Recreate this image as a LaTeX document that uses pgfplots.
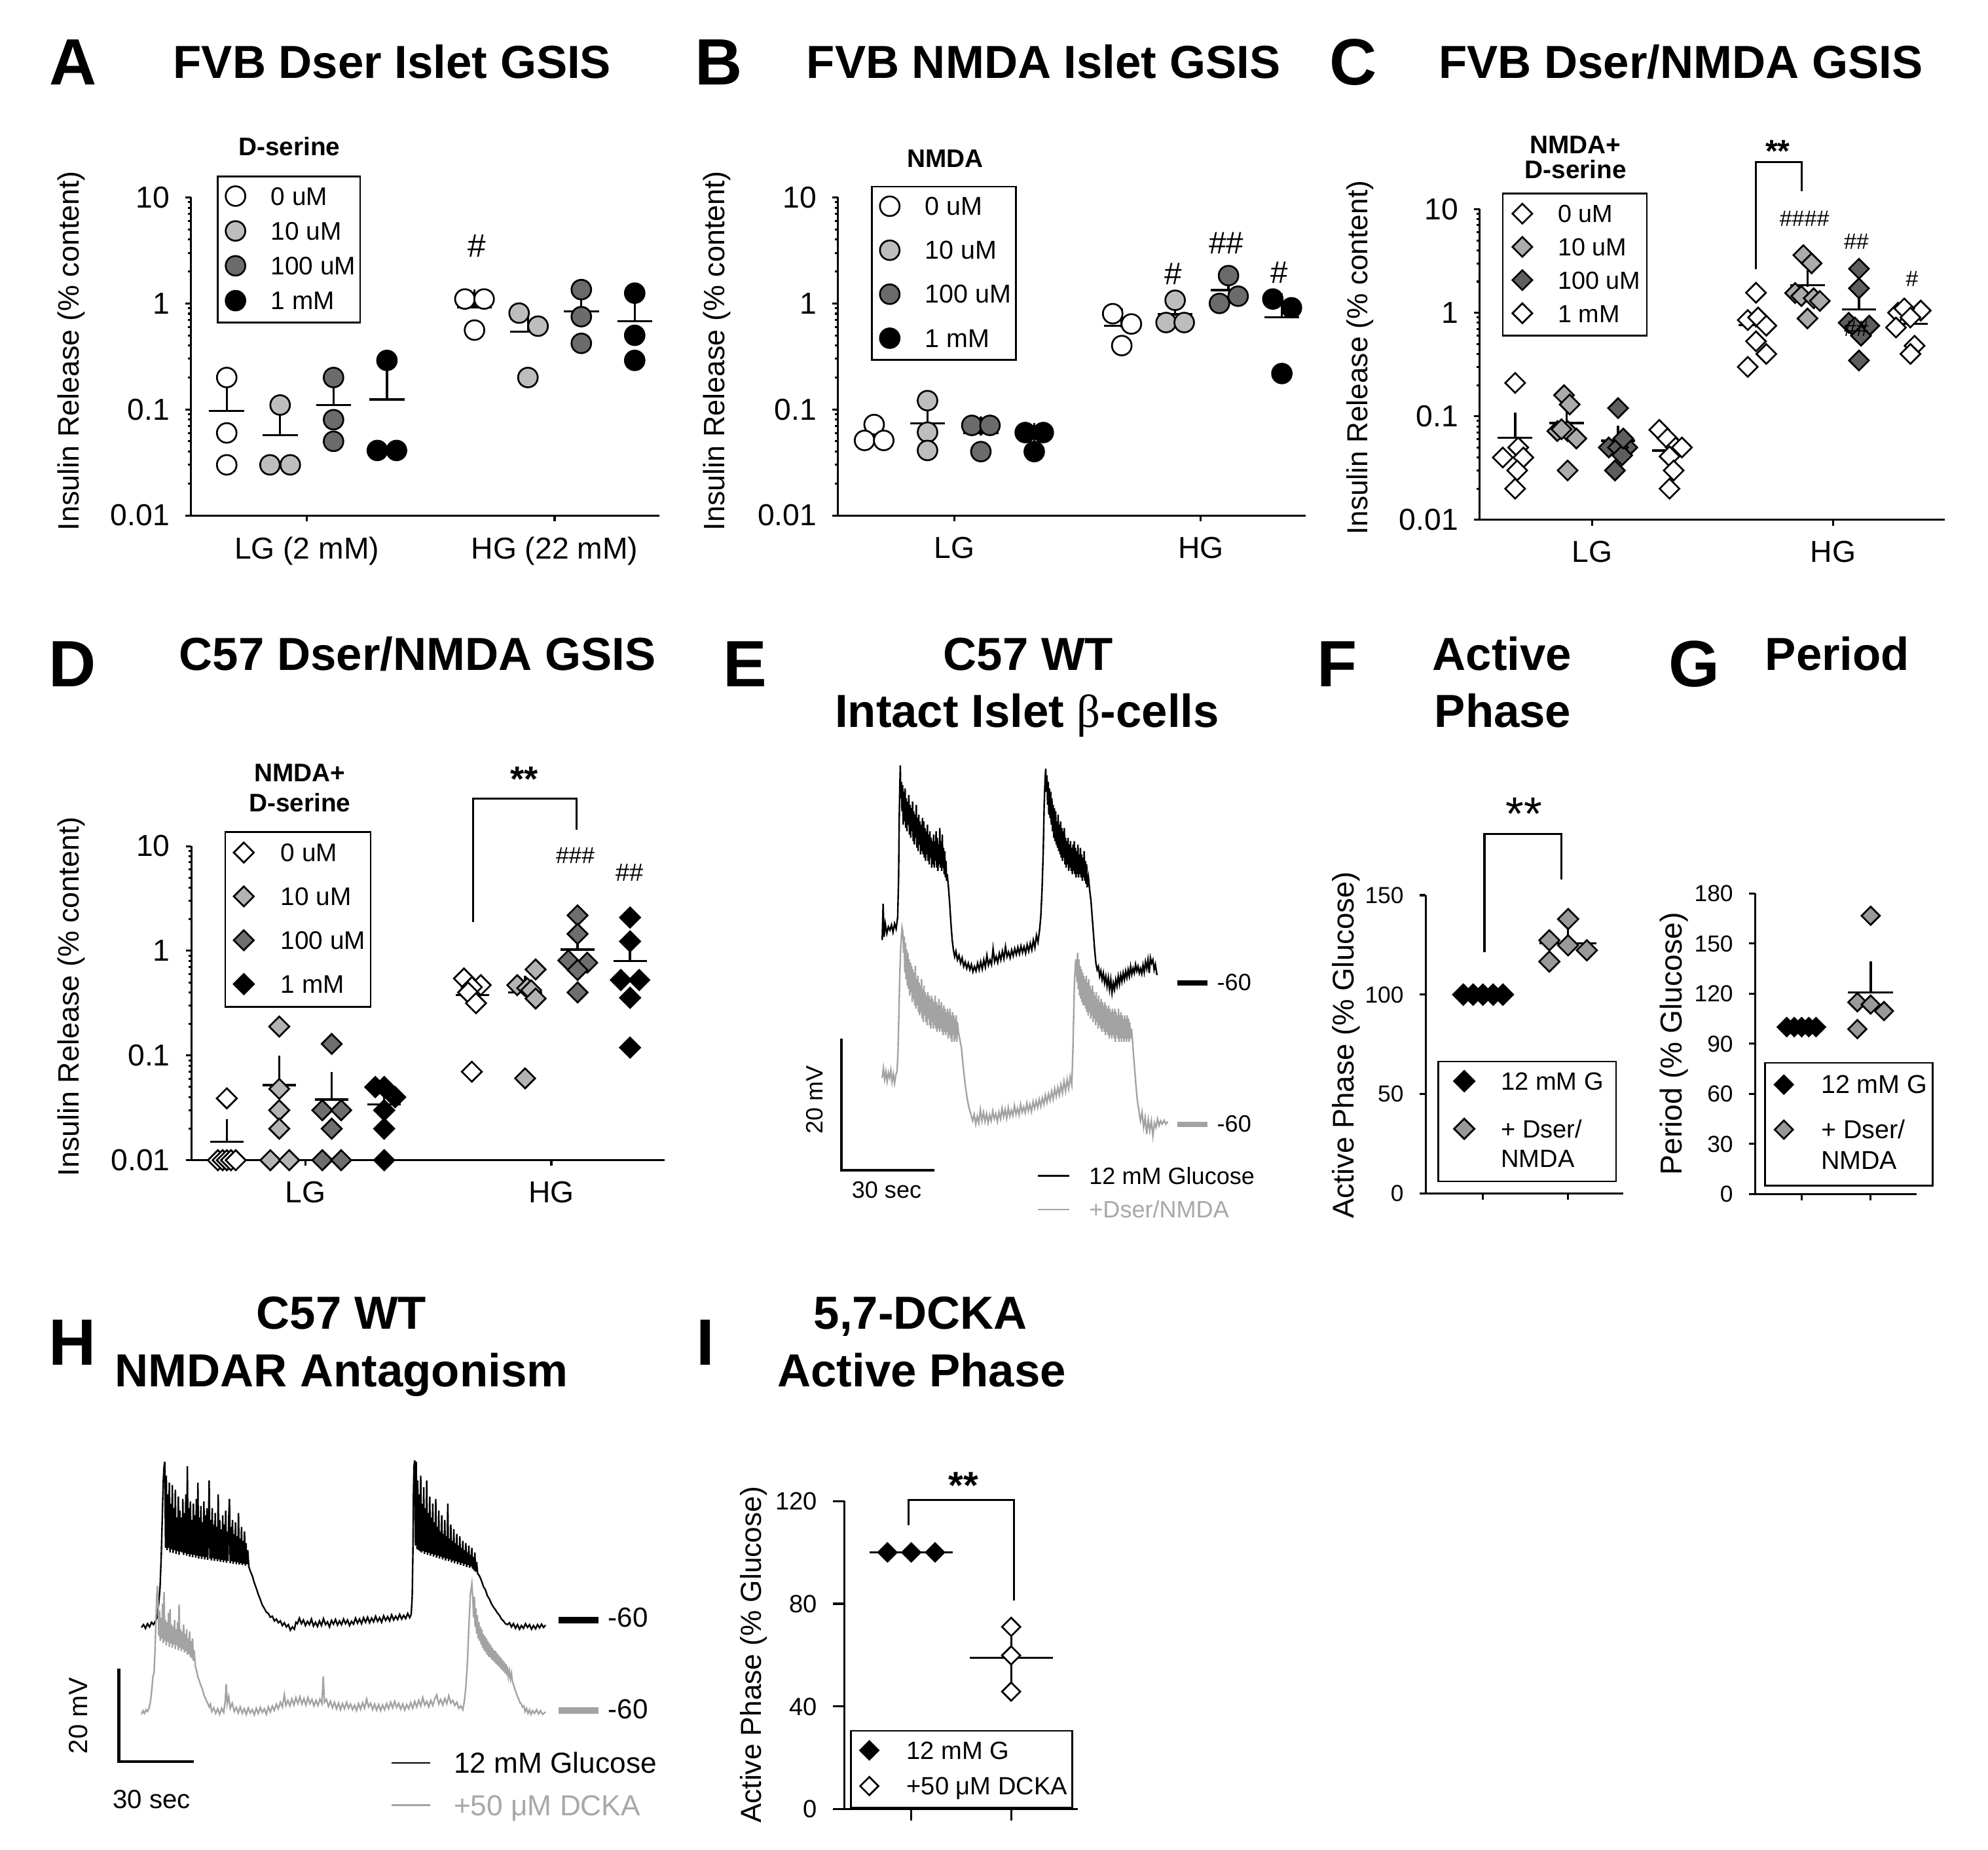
\documentclass[border=0pt]{standalone}
\usepackage{pgfplots}
\pgfplotsset{compat=1.18}
\usepackage{fontspec}
\setmainfont{Liberation Sans}
\newfontfamily\seriffont{Liberation Serif}
\newcommand{\fs}[1]{\fontsize{#1}{#1}\selectfont}
\definecolor{ltA}{HTML}{BDBDBD}
\definecolor{dkA}{HTML}{6B6B6B}
\definecolor{ltC}{HTML}{ABABAB}
\definecolor{dkC}{HTML}{5E5E5E}
\definecolor{ltD}{HTML}{B3B3B3}
\definecolor{dkD}{HTML}{6E6E6E}
\definecolor{gF}{HTML}{999999}
\definecolor{trg}{HTML}{A3A3A3}
\definecolor{txg}{HTML}{A8A8A8}
\pgfplotsset{
  every axis/.append style={scale only axis, clip=false,
    axis x line*=bottom, axis y line*=left,
    axis line style={line width=0.45pt, black},
    tick style={black, line width=0.45pt}, tick align=outside},
  myPts/.style={only marks, mark=*, mark size=2.2pt, mark options={fill=#1, draw=black, line width=0.4pt}},
  myDia/.style 2 args={only marks, mark=square*, mark size=#2, mark options={rotate=45, fill=#1, draw=black, line width=0.4pt}},
  myMean/.style={draw=none, mark=none, forget plot, error bars/.cd, x dir=both, x fixed=#1, error mark=none, error bar style={draw=black, line width=0.5pt}},
  mySem/.style={draw=none, mark=none, forget plot, error bars/.cd, y dir=plus, y explicit, error mark=-, error mark options={draw=black, mark size=#1, line width=0.5pt}, error bar style={draw=black, line width=0.5pt}},
  mySemB/.style={draw=none, mark=none, forget plot, error bars/.cd, y dir=both, y explicit, error mark=-, error mark options={draw=black, mark size=#1, line width=0.5pt}, error bar style={draw=black, line width=0.5pt}},
  myLegImg/.style={legend image code/.code={\path[draw=none,fill=none] (0pt,-1.5pt) rectangle (6pt,5pt);\draw[##1] plot coordinates {(3pt,2pt)};}},
  myImgD/.style={legend image code/.code={\path[draw=none,fill=none] (0pt,-#1) rectangle (6pt,5pt);\draw[##1] plot coordinates {(3pt,2pt)};}},
  myLeg/.style n args={7}{myLegImg, legend style={at={(axis description cs:#1,#2)}, anchor=north west, draw=black, line width=0.4pt, fill=white, font=#3, inner xsep=#4, inner ysep=#5, row sep=#6, column sep=#7, cells={anchor=base west}, nodes={inner sep=0pt}}},
}
\begin{document}
\begin{tikzpicture}
\path[use as bounding box] (0,0) rectangle (15.68,-14.59);

% ---------------- A ----------------
\begin{axis}[width=3.694cm, height=2.508cm,
  ymode=log, ymin=0.01, ymax=10, ytick={0.01,0.1,1,10}, yticklabels={0.01,0.1,1,10},
  minor ytick={0.02,0.03,0.04,0.05,0.06,0.07,0.08,0.09,0.2,0.3,0.4,0.5,0.6,0.7,0.8,0.9,2,3,4,5,6,7,8,9},
  major tick length=0.045cm, minor tick length=0.025cm, ticklabel style={font=\fs{6.8}},
  xmin=0.33, xmax=9.10, xtick={2.5,7.14}, xticklabels={LG (2 mM),HG (22 mM)},
  myLeg={0.0552}{1.0686}{\fs{5.7}}{1pt}{1.4pt}{1.32pt}{4.95pt},
  at={(1.506cm,-4.065cm)}, anchor=south west, /pgf/number format/assume math mode=true]
\addplot[myPts=white] coordinates {(1,0.20)(1,0.06)(1,0.03)(5.46,1.1)(5.82,1.1)(5.64,0.56)};
\addlegendentry{0 uM}
\addplot[myPts=ltA] coordinates {(2,0.11)(1.81,0.03)(2.19,0.03)(6.475,0.81)(6.83,0.61)(6.64,0.2)};
\addlegendentry{10 uM}
\addplot[myPts=dkA] coordinates {(3,0.2)(3,0.08)(3,0.05)(7.64,1.35)(7.64,0.75)(7.64,0.42)};
\addlegendentry{100 uM}
\addplot[myPts=black] coordinates {(4,0.29)(3.82,0.041)(4.18,0.041)(8.64,1.25)(8.64,0.5)(8.64,0.29)};
\addlegendentry{1 mM}
\addplot[myMean=0.328] table[x=x,y=y,row sep=\\] {x y\\ 1 0.097\\ 2 0.057\\ 3 0.11\\ 4 0.124\\ 5.64 0.92\\ 6.64 0.54\\ 7.64 0.84\\ 8.64 0.68\\};
\addplot[mySem=2.1pt] table[x=x,y=y,y error=e,row sep=\\] {x y e\\ 1 0.097 0.052\\ 2 0.057 0.027\\ 3 0.11 0.046\\ 4 0.124 0.083\\ 5.64 0.92 0.18\\ 6.64 0.54 0.17\\ 7.64 0.84 0.25\\ 8.64 0.68 0.29\\};
\end{axis}

% ---------------- B ----------------
\begin{axis}[width=3.69cm, height=2.508cm,
  ymode=log, ymin=0.01, ymax=10, ytick={0.01,0.1,1,10}, yticklabels={0.01,0.1,1,10},
  minor ytick={0.02,0.03,0.04,0.05,0.06,0.07,0.08,0.09,0.2,0.3,0.4,0.5,0.6,0.7,0.8,0.9,2,3,4,5,6,7,8,9},
  major tick length=0.045cm, minor tick length=0.025cm, ticklabel style={font=\fs{6.8}},
  xmin=0.324, xmax=9.09, xtick={2.5,7.12}, xticklabels={LG,HG},
  myLeg={0.0705}{1.0367}{\fs{5.8}}{1pt}{1.4pt}{3.37pt}{4.95pt},
  at={(6.61cm,-4.065cm)}, anchor=south west, /pgf/number format/assume math mode=true]
\addplot[myPts=white] coordinates {(1,0.072)(0.82,0.051)(1.18,0.051)(5.47,0.80)(5.82,0.64)(5.64,0.40)};
\addlegendentry{0 uM}
\addplot[myPts=ltA] coordinates {(2,0.121)(2,0.061)(2,0.041)(6.64,1.07)(6.47,0.66)(6.81,0.66)};
\addlegendentry{10 uM}
\addplot[myPts=dkA] coordinates {(2.83,0.0707)(3.17,0.0707)(3,0.040)(7.64,1.83)(7.82,1.17)(7.47,1.0)};
\addlegendentry{100 uM}
\addplot[myPts=black] coordinates {(3.83,0.0605)(4.17,0.0605)(4,0.040)(8.47,1.10)(8.82,0.91)(8.64,0.218)};
\addlegendentry{1 mM}
\addplot[myMean=0.328] table[x=x,y=y,row sep=\\] {x y\\ 1 0.058\\ 2 0.074\\ 3 0.060\\ 4 0.054\\ 5.64 0.613\\ 6.64 0.797\\ 7.64 1.333\\ 8.64 0.743\\};
\addplot[mySem=2.1pt] table[x=x,y=y,y error=e,row sep=\\] {x y e\\ 1 0.058 0.007\\ 2 0.074 0.024\\ 3 0.060 0.010\\ 4 0.054 0.007\\ 5.64 0.613 0.116\\ 6.64 0.797 0.137\\ 7.64 1.333 0.253\\ 8.64 0.743 0.268\\};
\end{axis}

% ---------------- C ----------------
\begin{axis}[width=3.67cm, height=2.45cm,
  ymode=log, ymin=0.01, ymax=10, ytick={0.01,0.1,1,10}, yticklabels={0.01,0.1,1,10},
  minor ytick={0.02,0.03,0.04,0.05,0.06,0.07,0.08,0.09,0.2,0.3,0.4,0.5,0.6,0.7,0.8,0.9,2,3,4,5,6,7,8,9},
  major tick length=0.045cm, minor tick length=0.025cm, ticklabel style={font=\fs{6.8}},
  xmin=0.31, xmax=9.35, xtick={2.5,7.18}, xticklabels={LG,HG},
  myLeg={0.0477}{1.053}{\fs{5.55}}{1.41pt}{1.5pt}{0.95pt}{5pt},
  at={(11.67cm,-4.10cm)}, anchor=south west, /pgf/number format/assume math mode=true]
\addplot[myDia={white}{1.57pt}] coordinates {(1,0.21)(1.06,0.05)(0.76,0.04)(1.16,0.04)(1.04,0.03)(1,0.02)(5.68,1.56)(5.52,0.85)(5.72,0.9)(5.88,0.75)(5.68,0.53)(5.88,0.40)(5.52,0.30)};
\addlegendentry{0 uM}
\addplot[myDia={ltC}{1.57pt}] coordinates {(1.95,0.16)(2.06,0.13)(1.82,0.072)(2.02,0.072)(2.19,0.061)(2.02,0.03)(1.9,0.075)(6.6,3.6)(6.76,3.0)(6.44,1.55)(6.56,1.45)(6.8,1.38)(6.92,1.3)(6.68,0.88)};
\addlegendentry{10 uM}
\addplot[myDia={dkC}{1.57pt}] coordinates {(3,0.12)(2.82,0.05)(3.18,0.05)(3,0.05)(3.08,0.042)(2.94,0.03)(3.1,0.061)(7.68,2.66)(7.68,1.72)(7.48,0.80)(7.88,0.75)(7.6,0.72)(7.72,0.6)(7.68,0.346)};
\addlegendentry{100 uM}
\addplot[myDia={white}{1.57pt}] coordinates {(3.8,0.074)(3.96,0.061)(4.12,0.05)(4.24,0.05)(4,0.041)(4.08,0.03)(4,0.02)(8.44,1.0)(8.88,1.05)(8.56,1.1)(8.68,0.9)(8.4,0.72)(8.76,0.48)(8.68,0.40)};
\addlegendentry{1 mM}
\addplot[myMean=0.336] table[x=x,y=y,row sep=\\] {x y\\ 1 0.062\\ 2 0.086\\ 3 0.058\\ 4 0.0466\\ 5.68 0.757\\ 6.68 1.84\\ 7.68 1.08\\ 8.68 0.782\\};
\addplot[mySem=2.1pt] table[x=x,y=y,y error=e,row sep=\\] {x y e\\ 1 0.062 0.026\\ 2 0.086 0.016\\ 3 0.058 0.008\\ 4 0.0466 0.0054\\ 5.68 0.757 0.126\\ 6.68 1.84 0.34\\ 7.68 1.08 0.31\\ 8.68 0.782 0.112\\};
\end{axis}

% ---------------- D ----------------
\begin{axis}[width=3.73cm, height=2.477cm,
  ymode=log, ymin=0.01, ymax=10, ytick={0.01,0.1,1,10}, yticklabels={0.01,0.1,1,10},
  minor ytick={0.02,0.03,0.04,0.05,0.06,0.07,0.08,0.09,0.2,0.3,0.4,0.5,0.6,0.7,0.8,0.9,2,3,4,5,6,7,8,9},
  major tick length=0.045cm, minor tick length=0.025cm, ticklabel style={font=\fs{6.8}},
  xmin=0.326, xmax=9.34, xtick={2.5,7.186}, xticklabels={LG,HG},
  myLeg={0.0697}{1.0476}{\fs{5.7}}{1.15pt}{1.6pt}{3.34pt}{5.3pt},
  at={(1.51cm,-9.15cm)}, anchor=south west, /pgf/number format/assume math mode=true]
\addplot[myDia={white}{1.59pt}] coordinates {(1,0.039)(0.83,0.01)(0.92,0.01)(1,0.01)(1.08,0.01)(1.17,0.01)(5.52,0.544)(5.84,0.47)(5.67,0.45)(5.6,0.40)(5.75,0.316)(5.67,0.07)};
\addlegendentry{0 uM}
\addplot[myDia={ltD}{1.59pt}] coordinates {(2,0.189)(2,0.048)(2,0.030)(2,0.020)(1.83,0.01)(2.19,0.01)(6.886,0.664)(6.536,0.47)(6.726,0.44)(6.8,0.42)(6.886,0.35)(6.686,0.0605)};
\addlegendentry{10 uM}
\addplot[myDia={dkD}{1.59pt}] coordinates {(3,0.129)(2.82,0.030)(3.18,0.030)(3,0.020)(2.82,0.01)(3.18,0.01)(7.686,2.18)(7.686,1.45)(7.51,0.81)(7.87,0.77)(7.686,0.655)(7.686,0.40)};
\addlegendentry{100 uM}
\addplot[myDia={black}{1.59pt}] coordinates {(3.83,0.05)(4,0.05)(4.21,0.04)(4,0.03)(4,0.02)(4,0.01)(8.686,2.08)(8.686,1.23)(8.51,0.526)(8.86,0.526)(8.686,0.356)(8.686,0.119)};
\addlegendentry{1 mM}
\addplot[myMean=0.32] table[x=x,y=y,row sep=\\] {x y\\ 1 0.015\\ 2 0.052\\ 3 0.038\\ 4 0.034\\ 5.686 0.378\\ 6.686 0.40\\ 7.686 1.03\\ 8.686 0.80\\};
\addplot[mySem=2.1pt] table[x=x,y=y,y error=e,row sep=\\] {x y e\\ 1 0.015 0.005\\ 2 0.052 0.029\\ 3 0.038 0.019\\ 4 0.034 0.0068\\ 5.686 0.378 0.077\\ 6.686 0.40 0.07\\ 7.686 1.03 0.25\\ 8.686 0.80 0.33\\};
\end{axis}

% ---------------- E ----------------
\begin{axis}[hide axis, width=2.785cm, height=3.64cm,
  xmin=-14, xmax=100, ymin=-90, ymax=-20,
  legend image code/.code={\path[draw=none,fill=none] (0pt,-1.5pt) rectangle (7.1pt,5pt);\draw[#1] (0pt,1.9pt) -- (7.1pt,1.9pt);},
  legend style={at={(axis description cs:0.5587,0.0423)}, anchor=north west, draw=none, fill=none, font=\fs{5.3}, inner sep=0pt, row sep=1.0pt, column sep=4.27pt, cells={anchor=base west}, nodes={inner sep=0pt}},
  at={(6.616cm,-9.312cm)}, anchor=south west]
\addplot[black, line width=0.35pt, forget plot] coordinates {
(0,-53.5)(0.3,-48)(0.6,-53)(1.0,-51)(1.5,-52.5)(2,-51.5)(2.5,-52)(3,-51.2)(3.5,-52.3)(4,-51)(4.5,-51.8)(5,-50)(5.3,-44)(5.5,-35)(5.7,-30)(5.85,-27)(6.0,-32)
(6.2,-29.5)(6.4,-34)(6.6,-30)(6.8,-36)(7.0,-31)(7.2,-35.5)(7.4,-30.5)(7.6,-36.5)(7.8,-32)(8.0,-37)(8.2,-32.5)(8.4,-36)(8.6,-31.5)(8.8,-37.5)(9.0,-33)(9.2,-38)(9.4,-33.5)(9.6,-37)(9.8,-32.5)(10.0,-38.5)
(10.2,-34)(10.4,-39)(10.6,-34.5)(10.8,-38)(11.0,-33)(11.2,-39.5)(11.4,-35)(11.6,-40)(11.8,-34.5)(12.0,-39)(12.2,-35.5)(12.4,-40.5)(12.6,-36)(12.8,-40)(13.0,-35)(13.2,-40.5)(13.4,-35.5)(13.6,-41)(13.8,-36.5)(14.0,-41.5)
(14.2,-37)(14.4,-40.5)(14.6,-36)(14.8,-41.5)(15.0,-37.5)(15.2,-42)(15.4,-37)(15.6,-41)(15.8,-38)(16.0,-42.5)(16.2,-38.5)(16.4,-42)(16.6,-37.5)(16.8,-42.5)(17.0,-38.5)(17.2,-41.5)(17.4,-37)(17.6,-42.5)(17.8,-38)(18.0,-43)
(18.2,-39)(18.4,-42)(18.6,-36.5)(18.8,-42.5)(19.0,-38.5)(19.2,-43)(19.4,-37.5)(19.6,-42.5)(19.8,-39.5)(20.0,-43.5)(20.2,-40)(20.4,-44)(20.6,-41.5)(20.8,-44.5)(21.0,-43.5)(21.4,-45.5)(21.8,-48)(22.2,-51)(22.6,-53.5)(23.0,-55)(23.4,-56)
(23.8,-55.2)(24.3,-56.5)(24.8,-55.8)(25.3,-57)(25.8,-56.2)(26.3,-57.5)(26.8,-56.8)(27.3,-57.8)(27.8,-57)(28.3,-58)(28.8,-57.2)(29.3,-58.3)(29.8,-57.5)(30.3,-58.2)(30.8,-57)(31.3,-58)(31.8,-56.8)(32.3,-57.9)(32.8,-56.5)(33.3,-57.6)
(33.8,-55.8)(34.3,-57.3)(34.8,-56.5)(35.3,-57.2)(35.8,-54.8)(36.3,-56.8)(36.8,-56)(37.3,-56.9)(37.8,-55.5)(38.3,-56.5)(38.8,-55.2)(39.3,-56.3)(39.8,-54.5)(40.3,-56)(40.8,-55.3)(41.3,-56.2)(41.8,-55)(42.3,-55.9)(42.8,-54.8)(43.3,-55.7)
(43.8,-54.6)(44.3,-55.6)(44.8,-54.4)(45.3,-55.4)(45.8,-54.5)(46.3,-55.5)(46.8,-54.2)(47.3,-55.2)(47.8,-54)(48.3,-55)(48.8,-53.5)(49.3,-54.6)(49.8,-52.8)(50.3,-53.8)(50.8,-52)(51.2,-50)(51.6,-46)(52.0,-40)(52.3,-33)(52.6,-29)(52.8,-27.5)(53.0,-31)
(53.2,-28.5)(53.4,-33)(53.6,-29.5)(53.8,-34.5)(54.0,-30.5)(54.2,-35)(54.4,-31)(54.6,-36)(54.8,-32)(55.0,-37)(55.2,-33)(55.4,-38)(55.6,-33.5)(55.8,-38.5)(56.0,-34)(56.2,-39)(56.4,-35.5)(56.6,-39.5)(56.8,-34.5)(57.0,-40)
(57.2,-36)(57.4,-40.5)(57.6,-35.5)(57.8,-41)(58.0,-36.5)(58.2,-41.5)(58.4,-37)(58.6,-41)(58.8,-36.5)(59.0,-42)(59.2,-38)(59.4,-42.5)(59.6,-38.5)(59.8,-42)(60.0,-38)(60.2,-43)(60.4,-39)(60.6,-42.5)(60.8,-38.5)(61.0,-43)
(61.2,-39.5)(61.4,-43.5)(61.6,-39)(61.8,-43)(62.0,-38.5)(62.2,-43.5)(62.4,-39.5)(62.6,-44)(62.8,-40)(63.0,-43.5)(63.2,-39)(63.4,-44)(63.6,-40.5)(63.8,-43.5)(64.0,-39.5)(64.2,-44)(64.4,-40.5)(64.6,-44.5)(64.8,-41)(65.0,-44)
(65.2,-40)(65.4,-44.5)(65.6,-41.5)(65.8,-45)(66.0,-42)(66.2,-45.5)(66.6,-44)(67.0,-46)(67.4,-47.5)(67.8,-50)(68.2,-52.5)(68.6,-55)(69.0,-57)(69.4,-58)
(69.8,-57.5)(70.2,-59)(70.6,-58.2)(71.0,-59.5)(71.4,-58.5)(71.8,-60)(72.2,-59)(72.6,-60.5)(73.0,-59.2)(73.4,-61)(73.8,-59.5)(74.2,-61.5)(74.6,-60)(75.0,-61)(75.4,-59.5)(75.8,-60.5)(76.2,-59)(76.6,-60.2)(77.0,-58.8)(77.4,-59.8)
(77.8,-58.5)(78.2,-59.5)(78.6,-58.2)(79.0,-59.2)(79.4,-58)(79.8,-59)(80.2,-57.5)(80.6,-58.7)(81.0,-57.8)(81.4,-58.5)(81.8,-57.2)(82.2,-58.2)(82.6,-57.5)(83.0,-58.5)(83.4,-57.8)(83.8,-58.6)(84.2,-57.3)(84.6,-58.4)(85.0,-56.8)(85.4,-57.8)
(85.8,-56.5)(86.2,-58.5)(86.6,-56.2)(87.0,-57)(87.4,-56.5)(87.8,-58)(88.2,-57.2)(88.7,-58.8)};
\addplot[trg, line width=0.35pt, forget plot, y filter/.expression={y-21.42}] coordinates {
(0,-53)(0.4,-51.5)(0.8,-53.2)(1.2,-52)(1.6,-53.5)(2.0,-52.2)(2.4,-53)(2.8,-51.8)(3.2,-53.6)(3.6,-52.4)(4.0,-53.8)(4.4,-52.5)(4.8,-52)(5.1,-49)(5.4,-43)(5.7,-37)(6.0,-33)(6.4,-30.2)(6.7,-31)
(6.9,-34)(7.1,-31.5)(7.3,-37)(7.5,-32.5)(7.7,-38)(7.9,-33.5)(8.1,-39)(8.3,-34)(8.5,-39.5)(8.7,-35)(8.9,-40.5)(9.1,-35.5)(9.3,-40)(9.5,-36)(9.7,-41.5)(9.9,-36.5)(10.1,-41)(10.3,-37)(10.5,-42)(10.7,-36)
(10.9,-42.5)(11.1,-38)(11.3,-42)(11.5,-37.5)(11.7,-43)(11.9,-38.5)(12.1,-43.5)(12.3,-39)(12.5,-43)(12.7,-38)(12.9,-44)(13.1,-39.5)(13.3,-44.5)(13.5,-39)(13.7,-43.5)(13.9,-40)(14.1,-44.5)(14.3,-40.5)(14.5,-45)(14.7,-40)
(14.9,-44)(15.1,-40.5)(15.3,-45)(15.5,-41)(15.7,-45.5)(15.9,-40.5)(16.1,-44.5)(16.3,-41)(16.5,-45.5)(16.7,-41.5)(16.9,-45)(17.1,-40.5)(17.3,-45.5)(17.5,-41.5)(17.7,-46)(17.9,-42)(18.1,-45.5)(18.3,-41)(18.5,-46)(18.7,-42)
(18.9,-45.5)(19.1,-41.5)(19.3,-46)(19.5,-42.5)(19.7,-46.5)(19.9,-42)(20.1,-46)(20.3,-42.5)(20.5,-46.5)(20.7,-43)(20.9,-46)(21.1,-42.5)(21.3,-47)(21.5,-43)(21.7,-46.5)(21.9,-42.5)(22.1,-47)(22.3,-43.5)(22.5,-47.5)(22.7,-43)
(22.9,-46.5)(23.1,-43.5)(23.3,-47.5)(23.5,-44)(23.7,-47)(23.9,-43.5)(24.1,-47.5)(24.3,-44.5)(24.6,-46)(25.0,-47)(25.6,-48.5)(26.2,-51.5)(26.8,-54)(27.4,-56)(28.0,-57.5)(28.7,-58.6)
(29.2,-59.5)(29.7,-58.5)(30.2,-60)(30.7,-58.8)(31.2,-59.8)(31.7,-57.8)(32.2,-59.5)(32.7,-58.2)(33.2,-59.6)(33.7,-58.4)(34.2,-59.8)(34.7,-58.6)(35.2,-59.5)(35.7,-58)(36.2,-59.2)(36.7,-58.4)(37.2,-59.6)(37.7,-58.2)(38.2,-59.2)(38.7,-57.6)
(39.2,-58.9)(39.7,-57.8)(40.2,-59.1)(40.7,-57.5)(41.2,-58.8)(41.7,-57.9)(42.2,-58.7)(42.7,-57.2)(43.2,-58.5)(43.7,-57.6)(44.2,-58.6)(44.7,-57)(45.2,-58.2)(45.7,-57.4)(46.2,-58.3)(46.7,-56.8)(47.2,-58)(47.7,-57)(48.2,-58.1)(48.7,-56.6)
(49.2,-57.6)(49.7,-56.5)(50.2,-57.5)(50.7,-56.2)(51.2,-57.3)(51.7,-56)(52.2,-57)(52.7,-55.6)(53.2,-56.7)(53.7,-55.4)(54.2,-56.4)(54.7,-55)(55.2,-56.2)(55.7,-54.6)(56.2,-55.8)(56.7,-54.4)(57.2,-55.6)(57.7,-54)(58.2,-55.3)(58.7,-53.5)
(59.2,-55)(59.7,-53.2)(60.2,-54.6)(60.7,-52.8)(61.2,-54)(61.5,-50)(61.8,-44)(62.1,-38)(62.5,-35)(62.7,-36)
(62.9,-38.5)(63.1,-34)(63.3,-39.5)(63.5,-35)(63.7,-40.5)(63.9,-36)(64.1,-41)(64.3,-36.5)(64.5,-41.5)(64.7,-37)(64.9,-42)(65.1,-37.5)(65.3,-42)(65.5,-38)(65.7,-42.5)(65.9,-37.5)(66.1,-43)(66.3,-38.5)(66.5,-43.5)(66.7,-38)
(66.9,-43)(67.1,-39)(67.3,-44)(67.5,-39.5)(67.7,-43.5)(67.9,-39)(68.1,-44.5)(68.3,-40)(68.5,-44)(68.7,-40.5)(68.9,-45)(69.1,-40)(69.3,-44.5)(69.5,-41)(69.7,-45.5)(69.9,-40.5)(70.1,-45)(70.3,-41.5)(70.5,-45.5)(70.7,-41)
(70.9,-46)(71.1,-41.5)(71.3,-45.5)(71.5,-42)(71.7,-46)(71.9,-41.5)(72.1,-46.5)(72.3,-42)(72.5,-46)(72.7,-42.5)(72.9,-46.5)(73.1,-42)(73.3,-47)(73.5,-42.5)(73.7,-46.5)(73.9,-43)(74.1,-47)(74.3,-42.5)(74.5,-46.5)(74.7,-43)
(74.9,-47)(75.1,-42.5)(75.3,-47.5)(75.5,-43)(75.7,-46.5)(75.9,-43.5)(76.1,-47)(76.3,-42.5)(76.5,-47.5)(76.7,-43.5)(76.9,-47)(77.1,-43)(77.3,-47.5)(77.5,-43.5)(77.7,-47)(77.9,-44)(78.1,-47.5)(78.3,-43.5)(78.5,-47)(78.7,-44)
(78.9,-47.5)(79.1,-43.5)(79.3,-47)(79.5,-44)(79.7,-47.5)(79.9,-44.5)(80.2,-47)(80.5,-45.5)(80.9,-48)(81.4,-51)(81.9,-54)(82.4,-56.5)(82.9,-58)(83.4,-59.5)(83.9,-58.2)(84.4,-60.5)(84.9,-59)
(85.4,-61.5)(85.9,-59.3)(86.4,-61)(86.9,-59.5)(87.4,-61.8)(87.9,-59.8)(88.4,-60.5)(88.9,-59.2)(89.4,-60.2)(89.9,-59.5)(90.4,-60)(91.0,-59.4)(91.6,-60)(92.2,-59.6)};
\addplot[black, line width=0.6pt, forget plot] coordinates {(-13.1,-68.4)(-13.1,-88.4)(16.9,-88.4)};
\addplot[black, line width=1.15pt, forget plot] coordinates {(95.3,-60)(105,-60)};
\addplot[trg, line width=1.15pt, forget plot] coordinates {(95.3,-81.42)(105,-81.42)};
\addlegendimage{black, line width=0.35pt}
\addlegendentry{12 mM Glucose}
\addlegendimage{trg, line width=0.35pt}
\addlegendentry[text=txg]{+Dser/NMDA}
\end{axis}

% ---------------- F ----------------
\begin{axis}[width=1.56cm, height=2.353cm,
  xmin=0.329, xmax=2.65, ymin=0, ymax=150, ytick={0,50,100,150},
  xtick={1,2}, xticklabels={}, major tick length=0.05cm,
  ticklabel style={font=\fs{5.2}},
  myLeg={0.0596}{0.4454}{\fs{5.6}}{2.8pt}{1.4pt}{0.2pt}{5.25pt},
  at={(11.245cm,-9.413cm)}, anchor=south west, /pgf/number format/assume math mode=true]
\addplot[myDia={black}{1.61pt}, myImgD=5.5pt] coordinates {(0.77,100)(0.885,100)(1,100)(1.12,100)(1.235,100)};
\addlegendentry{12 mM G}
\addplot[myDia={gF}{1.61pt}, myImgD=2.5pt] coordinates {(2,138)(1.78,127.3)(2,124.8)(2.22,122.3)(1.78,116.6)};
\addlegendentry{+ Dser/}
\addlegendimage{legend image code/.code={\path[draw=none,fill=none] (0pt,-1.7pt) rectangle (6pt,4pt);}}
\addlegendentry{NMDA}
\addplot[myMean=0.335] table[x=x,y=y,row sep=\\] {x y\\ 1 100\\ 2 125.8\\};
\addplot[mySem=3.6pt] table[x=x,y=y,y error=e,row sep=\\] {x y e\\ 2 125.8 3.4\\};
\end{axis}

% ---------------- G ----------------
\begin{axis}[width=1.274cm, height=2.37cm,
  xmin=0.325, xmax=2.667, ymin=0, ymax=180, ytick={0,30,60,90,120,150,180},
  xtick={1,2}, xticklabels={}, major tick length=0.05cm,
  ticklabel style={font=\fs{5.2}},
  myLeg={0.0565}{0.4397}{\fs{5.8}}{1.2pt}{1.9pt}{0.2pt}{5.35pt},
  at={(13.843cm,-9.417cm)}, anchor=south west, /pgf/number format/assume math mode=true]
\addplot[myDia={black}{1.45pt}, myImgD=4.9pt] coordinates {(0.784,100)(0.892,100)(1,100)(1.104,100)(1.208,100)};
\addlegendentry{12 mM G}
\addplot[myDia={gF}{1.45pt}, myImgD=2.75pt] coordinates {(2,166.7)(1.807,114.9)(2,113.5)(2.193,109.6)(1.807,98.8)};
\addlegendentry{+ Dser/}
\addlegendimage{legend image code/.code={\path[draw=none,fill=none] (0pt,-1.7pt) rectangle (6pt,4pt);}}
\addlegendentry{NMDA}
\addplot[myMean=0.327] table[x=x,y=y,row sep=\\] {x y\\ 1 100\\ 2 120.7\\};
\addplot[mySem=2.5pt] table[x=x,y=y,y error=e,row sep=\\] {x y e\\ 2 120.7 11.9\\};
\end{axis}

% ---------------- H ----------------
\begin{axis}[hide axis, width=3.954cm, height=2.7525cm,
  xmin=-10, xmax=190, ymin=-95, ymax=-20,
  legend image code/.code={\path[draw=none,fill=none] (0pt,-1.5pt) rectangle (8.8pt,5.5pt);\draw[#1] (0pt,2.34pt) -- (8.8pt,2.34pt);},
  legend style={at={(axis description cs:0.545,0.1003)}, anchor=north west, draw=none, fill=none, font=\fs{6.5}, inner sep=0pt, row sep=2.5pt, column sep=5.06pt, cells={anchor=base west}, nodes={inner sep=0pt}},
  at={(0.9183cm,-14.0605cm)}, anchor=south west]
\addplot[black, line width=0.35pt, forget plot] coordinates {
(0,-61.6)(0.8,-61)(1.6,-61.8)(2.4,-60.8)(3.2,-61.5)(4,-60.5)(4.8,-61)(5.6,-60.2)(6.2,-59.5)(6.8,-57)(7.4,-53)(7.9,-46)(8.3,-38)(8.7,-30)(9.0,-27)(9.3,-26)
(9.6,-44.5)(9.9,-29)(10.2,-45)(10.5,-33)(10.8,-44.5)(11.1,-30.5)(11.4,-45.5)(11.7,-35)(12.0,-44.8)(12.3,-31)(12.6,-45.6)(12.9,-36)(13.2,-45)(13.5,-32)(13.8,-45.8)(14.1,-38)(14.4,-45.2)(14.7,-33.5)(15.0,-46)(15.3,-36.5)
(15.6,-45.3)(15.9,-38)(16.2,-45.5)(16.5,-34)(16.8,-46)(17.1,-37)(17.4,-45.6)(17.7,-33)(18.0,-46.2)(18.3,-27)(18.6,-45.8)(18.9,-36)(19.2,-46.4)(19.5,-34.5)(19.8,-45.9)(20.1,-38.5)(20.4,-46.5)(20.7,-35)(21.0,-46)(21.3,-37.5)
(21.6,-46.6)(21.9,-34)(22.2,-46.2)(22.5,-30.5)(22.8,-46.8)(23.1,-38)(23.4,-46.3)(23.7,-35.5)(24.0,-46.9)(24.3,-39)(24.6,-46.4)(24.9,-34.5)(25.2,-47)(25.5,-37.5)(25.8,-46.5)(26.1,-36)(26.4,-47.1)(26.7,-40)(27.0,-30)(27.3,-46.8)
(27.6,-38.5)(27.9,-47.2)(28.2,-36)(28.5,-46.7)(28.8,-39.5)(29.1,-47.3)(29.4,-37)(29.7,-46.9)(30.0,-40)(30.3,-47.4)(30.6,-33)(30.9,-47)(31.2,-38.5)(31.5,-47.5)(31.8,-40.5)(32.1,-47.1)(32.4,-37.5)(32.7,-47.6)(33.0,-39.5)(33.3,-47.2)
(33.6,-36.5)(33.9,-47.7)(34.2,-41)(34.5,-47.3)(34.8,-38)(35.1,-34)(35.4,-47.8)(35.7,-40)(36.0,-47.4)(36.3,-38.5)(36.6,-47.9)(36.9,-41.5)(37.2,-47.5)(37.5,-39)(37.8,-48)(38.1,-42)(38.4,-47.6)(38.7,-37)(39.0,-48.1)(39.3,-42.5)
(39.6,-47.8)(39.9,-40)(40.2,-48.2)(40.5,-43)(40.8,-47.9)(41.1,-41)(41.4,-48.3)(41.7,-43.5)(42.0,-48)(42.4,-45)(42.8,-48.5)
(43.4,-49.5)(44.2,-50.5)(45.0,-52)(45.8,-53.2)(46.6,-54.5)(47.4,-55.6)(48.2,-56.8)(49.0,-57.5)(49.8,-58.3)(50.6,-58.6)(51.4,-59.4)(52.2,-59.2)(53.0,-60.2)(53.8,-59.8)(54.6,-60.6)(55.4,-60.2)(56.2,-61.2)(57.0,-60.6)(57.8,-61.5)(58.6,-61)
(59.4,-62.2)(60.2,-61.5)(61.0,-62)(61.6,-60.5)(62.2,-60.8)(63.0,-59.6)(63.8,-60.8)(64.6,-60)(65.4,-61.2)(66.2,-60.3)(67.0,-61)(67.8,-59.8)(68.6,-61.3)(69.4,-60.5)(70.2,-61.4)(71.0,-60.2)(71.8,-61.2)(72.6,-59.7)(73.4,-61)(74.2,-60.4)
(75.0,-61.5)(75.8,-60.1)(76.6,-60.9)(77.4,-59.9)(78.2,-61.1)(79.0,-60.2)(79.8,-61)(80.6,-59.8)(81.4,-60.8)(82.2,-60)(83.0,-61.2)(83.8,-60.3)(84.6,-60.9)(85.4,-59.6)(86.2,-60.7)(87.0,-59.8)(87.8,-60.8)(88.6,-59.5)(89.4,-60.5)(90.2,-59.4)
(91.0,-60.6)(91.8,-59.6)(92.6,-60.4)(93.4,-59.2)(94.2,-60.3)(95.0,-59.5)(95.8,-60.5)(96.6,-59.1)(97.4,-60.1)(98.2,-59.3)(99.0,-60.2)(99.8,-58.9)(100.6,-60)(101.4,-59.2)(102.2,-59.9)(103.0,-58.8)(103.8,-59.8)(104.6,-59)(105.4,-59.7)(106.2,-58.6)
(107.0,-59.5)(107.6,-58.8)(108.0,-55)(108.3,-45)(108.5,-33)(108.7,-27)(109.0,-25.7)
(109.3,-44)(109.6,-26)(109.9,-44.8)(110.2,-30)(110.5,-45)(110.8,-33)(111.1,-45.2)(111.4,-29)(111.7,-45.5)(112.0,-35)(112.3,-45.2)(112.6,-31.5)(112.9,-45.8)(113.2,-36)(113.5,-45.4)(113.8,-30)(114.1,-46)(114.4,-37)(114.7,-45.6)(115.0,-33.5)
(115.3,-46.2)(115.6,-38)(115.9,-45.8)(116.2,-35)(116.5,-46.4)(116.8,-39)(117.1,-46)(117.4,-34)(117.7,-46.6)(118.0,-40)(118.3,-46.2)(118.6,-36.5)(118.9,-46.8)(119.2,-41)(119.5,-46.4)(119.8,-37.5)(120.1,-47)(120.4,-41.5)(120.7,-46.6)(121.0,-38.5)
(121.3,-47.2)(121.6,-42)(121.9,-46.8)(122.2,-35)(122.5,-47.4)(122.8,-42.5)(123.1,-47)(123.4,-39.5)(123.7,-47.6)(124.0,-43)(124.3,-47.2)(124.6,-40.5)(124.9,-47.8)(125.2,-43.5)(125.5,-47.4)(125.8,-41.5)(126.1,-48)(126.4,-44)(126.7,-47.6)(127.0,-42)
(127.3,-48.2)(127.6,-44.5)(127.9,-47.8)(128.2,-43)(128.5,-48.4)(128.8,-45)(129.1,-48)(129.4,-43.5)(129.7,-48.6)(130.0,-45.5)(130.3,-48.2)(130.6,-44)(130.9,-48.8)(131.2,-46)(131.5,-48.5)(131.8,-44.5)(132.1,-49)(132.4,-46.5)(132.7,-49.4)(133.0,-45.5)
(133.3,-49.6)(133.7,-47.5)(134.1,-50)(134.8,-50.5)(135.6,-51.5)(136.4,-52.8)(137.2,-53.5)(138.0,-54.8)(138.8,-55.5)(139.6,-56.5)(140.4,-57.2)(141.2,-57.8)(142.0,-58.5)(142.8,-59)(143.6,-59.8)(144.4,-60.2)(145.2,-60.8)(146.0,-61)(146.8,-60.6)(147.6,-61.5)
(148.4,-60.8)(149.2,-61.8)(150.0,-61)(150.8,-62)(151.6,-61.2)(152.4,-61.8)(153.2,-60.8)(154.0,-61.6)(154.8,-61)(155.6,-62)(156.4,-61.2)(157.2,-61.9)(158.0,-61)(158.8,-61.7)(159.6,-60.9)(160.4,-61.6)(161.2,-61.1)};
\addplot[trg, line width=0.35pt, forget plot, y filter/.expression={y-19.48}] coordinates {
(0,-60.8)(0.6,-60)(1.2,-60.6)(1.8,-59.8)(2.4,-60.2)(3.0,-59.5)(3.6,-58)(4.2,-55)(4.6,-52.5)(5.0,-52)(5.4,-47)(5.8,-40)(6.1,-35)(6.4,-33.2)(6.7,-38)
(6.9,-44)(7.2,-38.5)(7.5,-45)(7.8,-40)(8.1,-44.5)(8.4,-37)(8.7,-45.5)(9.0,-34.5)(9.3,-45)(9.6,-40.5)(9.9,-46)(10.2,-41)(10.5,-45.2)(10.8,-39)(11.1,-46.3)(11.4,-38.2)(11.7,-45.6)(12.0,-41.5)(12.3,-46.5)(12.6,-42)
(12.9,-45.8)(13.2,-40.5)(13.5,-46.8)(13.8,-42.5)(14.1,-46)(14.4,-41)(14.7,-47)(15.0,-37.2)(15.3,-46.5)(15.6,-42.5)(15.9,-47.2)(16.2,-43)(16.5,-46.8)(16.8,-41.5)(17.1,-47.5)(17.4,-43.5)(17.7,-47.2)(18.0,-42.5)(18.3,-48)(18.6,-44.5)
(18.9,-47.8)(19.2,-43)(19.5,-48.5)(19.8,-45)(20.1,-48.8)(20.4,-44.5)(20.7,-49.3)(21.0,-47)(21.5,-50.5)(22.0,-51.5)(22.5,-52.8)(23.0,-53.5)(23.5,-54.3)(24.0,-55)(24.5,-55.8)(25.0,-56.8)(25.5,-57.3)(26.0,-58)(26.5,-58.5)(27.0,-59.2)(27.5,-58.6)
(28.0,-60.2)(28.8,-59.4)(29.6,-60.6)(30.4,-59.6)(31.2,-60.8)(32.0,-59.5)(32.8,-60.4)(33.4,-58)(33.8,-54.3)(34.2,-58.5)(34.8,-57)(35.4,-59.5)(36.2,-58.4)(37.0,-60.2)(37.8,-59.3)(38.6,-60.5)(39.4,-59.2)(40.2,-60.6)(41.0,-59.6)(41.8,-60.8)
(42.6,-59.4)(43.4,-60.5)(44.2,-59.8)(45.0,-60.9)(45.8,-59.5)(46.6,-60.6)(47.4,-59.3)(48.2,-60.4)(49.0,-59.6)(49.8,-60.8)(50.6,-59.2)(51.4,-60.3)(52.2,-59)(53.0,-60)(53.8,-58.6)(54.6,-59.6)(55.4,-58.2)(56.2,-59.2)(57.0,-56.6)(57.6,-58.9)
(58.4,-57.8)(59.2,-59)(60.0,-57.5)(60.8,-58.8)(61.6,-57.2)(62.4,-58.5)(63.2,-57)(64.0,-58.6)(64.8,-57.4)(65.6,-58.8)(66.4,-57.2)(67.2,-58.5)(68.0,-57.6)(68.8,-59)(69.6,-57.8)(70.4,-58.9)(71.2,-57.5)(72.0,-58.5)(72.5,-52.7)(73.0,-58.2)
(73.8,-57.6)(74.6,-59.1)(75.4,-58)(76.2,-59.4)(77.0,-58.2)(77.8,-59.6)(78.6,-58.4)(79.4,-59.8)(80.2,-58.5)(81.0,-59.6)(81.8,-58.2)(82.6,-59.5)(83.4,-58.6)(84.2,-59.8)(85.0,-58.8)(85.8,-60)(86.6,-58.5)(87.4,-59.7)(88.2,-58.3)(89.0,-59.5)
(89.8,-57.5)(90.6,-59.2)(91.4,-58.4)(92.2,-59.8)(93.0,-58.6)(93.8,-59.9)(94.6,-58.7)(95.4,-60)(96.2,-58.8)(97.0,-59.8)(97.8,-58.5)(98.6,-59.6)(99.4,-58.2)(100.2,-59.4)(101.0,-58)(101.8,-59.3)(102.6,-58.4)(103.4,-59.7)(104.2,-58.6)(105.0,-59.9)
(105.8,-58.7)(106.6,-59.6)(107.4,-58.3)(108.2,-59.5)(109.0,-58)(109.8,-59.2)(110.6,-57.8)(111.4,-59)(112.2,-57.2)(113.0,-58.8)(113.8,-58)(114.6,-59.2)(115.4,-57.8)(116.2,-58.9)(117.0,-57.5)(117.8,-56.6)(118.6,-58.6)(119.4,-57.6)(120.2,-58.8)(121.0,-57.4)
(121.8,-58.5)(122.6,-56.8)(123.4,-58.4)(124.2,-57.8)(125.0,-58.9)(125.8,-58.2)(126.6,-59.5)(127.4,-59)(128.2,-59.8)(128.8,-58)(129.4,-55)(130.0,-50)(130.6,-42)(131.2,-35)(131.8,-32.7)(132.2,-36)
(132.5,-40)(132.8,-35.5)(133.1,-42)(133.4,-38)(133.7,-43.5)(134.0,-39.5)(134.3,-44.5)(134.6,-41)(134.9,-45)(135.2,-42)(135.5,-45.8)(135.8,-42.5)(136.1,-46.5)(136.4,-43.5)(136.7,-47)(137.0,-44)(137.3,-47.5)(137.6,-44.5)(137.9,-48)(138.2,-45)
(138.5,-48.4)(138.8,-45.5)(139.1,-48.6)(139.4,-46)(139.7,-49)(140.0,-46.5)(140.3,-49.3)(140.6,-47)(140.9,-49.6)(141.2,-47.2)(141.5,-50)(141.8,-47.6)(142.1,-50.3)(142.4,-48)(142.7,-50.6)(143.0,-48.4)(143.3,-51)(143.6,-48.8)(143.9,-51.3)(144.2,-49.2)
(144.5,-51.6)(144.8,-49.6)(145.1,-52)(145.4,-50)(145.7,-52.4)(146.0,-50.5)(146.4,-52.8)(146.8,-51.5)(147.2,-53.2)(147.6,-52)(148.0,-53.8)(148.5,-54.5)(149.0,-55.5)(149.5,-56.2)(150.0,-57)(150.5,-57.5)(151.0,-58.3)(151.5,-58.5)(152.0,-59.2)(152.5,-59)
(153.0,-60.2)(153.6,-59.5)(154.2,-60.6)(154.8,-59.8)(155.4,-60.8)(156.0,-60)(156.8,-60.6)(157.6,-59.8)(158.4,-60.7)(159.2,-60)(160.0,-60.8)(161.2,-60.3)};
\addplot[black, line width=0.68pt, forget plot] coordinates {(-9,-70.46)(-9,-90.46)(21,-90.46)};
\addplot[black, line width=1.45pt, forget plot] coordinates {(166.4,-60)(182.2,-60)};
\addplot[trg, line width=1.45pt, forget plot] coordinates {(166.4,-79.48)(182.2,-79.48)};
\addlegendimage{black, line width=0.35pt}
\addlegendentry{12 mM Glucose}
\addlegendimage{trg, line width=0.35pt}
\addlegendentry[text=txg]{+50 μM DCKA}
\end{axis}

% ---------------- I ----------------
\begin{axis}[width=1.84cm, height=2.431cm,
  xmin=0.331, xmax=2.666, ymin=0, ymax=120, ytick={0,40,80,120},
  xtick={1,2}, xticklabels={}, major tick length=0.09cm,
  ticklabel style={font=\fs{5.6}},
  myLeg={0.0245}{0.2575}{\fs{5.6}}{1.1pt}{1.4pt}{1.5pt}{5.4pt},
  at={(6.66cm,-14.269cm)}, anchor=south west, /pgf/number format/assume math mode=true]
\addplot[myDia={black}{1.45pt}] coordinates {(0.762,100)(1,100)(1.238,100)};
\addlegendentry{12 mM G}
\addplot[myDia={white}{1.45pt}] coordinates {(2,71)(2,59.9)(2,45.8)};
\addlegendentry{+50 μM DCKA}
\addplot[myMean=0.415] table[x=x,y=y,row sep=\\] {x y\\ 1 100\\ 2 58.9\\};
\addplot[mySemB=3.85pt] table[x=x,y=y,y error=e,row sep=\\] {x y e\\ 2 58.9 7.2\\};
\end{axis}

% ---------------- texts, brackets ----------------
\begin{scope}[x=0.01cm, y=-0.01cm]
\begin{scope}[every node/.style={font=\fs{14.7}\bfseries, anchor=base, inner sep=0pt}]
\node at (57.5,67) {A};
\node at (567,67) {B};
\node at (1068,67) {C};
\node at (57,542) {D};
\node at (588,542) {E};
\node at (1055,542) {F};
\node at (1337,542) {G};
\node at (57,1077) {H};
\node at (557,1077) {I};
\end{scope}
\begin{scope}[every node/.style={font=\fs{10.4}\bfseries, anchor=base, inner sep=0pt}]
\node at (309.5,62) {FVB Dser Islet GSIS};
\node at (823.5,62) {FVB NMDA Islet GSIS};
\node at (1326.5,62) {FVB Dser/NMDA GSIS};
\node at (329.5,529) {C57 Dser/NMDA GSIS};
\node at (811.5,529) {C57 WT};
\node at (810.5,574) {Intact Islet {\seriffont\mdseries β}-cells};
\node at (1185.5,529) {Active};
\node at (1186,574) {Phase};
\node at (1450,529) {Period};
\node at (269.5,1049) {C57 WT};
\node at (269.5,1094) {NMDAR Antagonism};
\node at (726.5,1049) {5,7-DCKA};
\node at (727.5,1094) {Active Phase};
\end{scope}
\begin{scope}[every node/.style={font=\fs{5.7}\bfseries, anchor=base, inner sep=0pt}]
\node at (228.3,123) {D-serine};
\node at (745.8,132) {NMDA};
\node at (1243.4,121) {NMDA+};
\node at (1243.4,141) {D-serine};
\node at (236.6,617) {NMDA+};
\node at (236.6,640.5) {D-serine};
\end{scope}
\node[rotate=90, font=\fs{6.6}] at (56.3,276.8) {Insulin Release (\% content)};
\node[rotate=90, font=\fs{6.6}] at (566,276.8) {Insulin Release (\% content)};
\node[rotate=90, font=\fs{6.5}] at (1073.5,282.3) {Insulin Release (\% content)};
\node[rotate=90, font=\fs{6.6}] at (56.3,786.4) {Insulin Release (\% content)};
\node[rotate=90, font=\fs{6.7}] at (1062.1,824.7) {Active Phase (\% Glucose)};
\node[rotate=90, font=\fs{6.8}] at (1321.3,823.6) {Period (\% Glucose)};
\node[rotate=90, font=\fs{6.5}] at (595,1305.8) {Active Phase (\% Glucose)};
\node[font=\fs{7.3}] at (376.5,194) {\#};
\node[font=\fs{7}] at (926,216) {\#};
\node[font=\fs{7}] at (967.8,192) {\#\#};
\node[font=\fs{7}] at (1009.8,215) {\#};
\node[font=\fs{5}] at (1424,172.8) {\#\#\#\#};
\node[font=\fs{5}] at (1465,190.6) {\#\#};
\node[font=\fs{5}] at (1509,220) {\#};
\node[font=\fs{5}] at (1465,259.3) {\#\#};
\node[font=\fs{5.2}] at (454,675) {\#\#\#};
\node[font=\fs{5.6}] at (497,688.4) {\#\#};
\node[font=\fs{7.1}\bfseries, anchor=base, inner sep=0pt] at (1403,128) {**};
\node[font=\fs{8}\bfseries, anchor=base, inner sep=0pt] at (413.8,624.6) {**};
\node[font=\fs{10.5}, anchor=base, inner sep=0pt] at (1202.7,655) {**};
\node[font=\fs{8.6}\bfseries, anchor=base, inner sep=0pt] at (760.2,1182.4) {**};
\draw[line width=0.45pt] (1385.5,212.6) -- (1385.5,128) -- (1422,128) -- (1422,151);
\draw[line width=0.45pt] (373.2,727.5) -- (373.2,630.3) -- (454.9,630.3) -- (454.9,654.8);
\draw[line width=0.5pt] (1171.4,751.6) -- (1171.4,658) -- (1232.3,658) -- (1232.3,694);
\draw[line width=0.45pt] (716.8,1203.7) -- (716.8,1183.8) -- (800,1183.8) -- (800,1263);
\node[font=\fs{5.3}, anchor=west, inner sep=0pt] at (959.8,775.2) {-60};
\node[font=\fs{5.3}, anchor=west, inner sep=0pt] at (959.8,886.6) {-60};
\node[font=\fs{5.3}] at (699.7,939.2) {30 sec};
\node[font=\fs{5.3}, rotate=90] at (643,868) {20 mV};
\node[font=\fs{6.2}, anchor=west, inner sep=0pt] at (479.2,1276.5) {-60};
\node[font=\fs{6.2}, anchor=west, inner sep=0pt] at (479.2,1349) {-60};
\node[font=\fs{5.9}] at (119.6,1420) {30 sec};
\node[font=\fs{5.9}, rotate=90] at (62,1354) {20 mV};
\end{scope}
\end{tikzpicture}
\end{document}
